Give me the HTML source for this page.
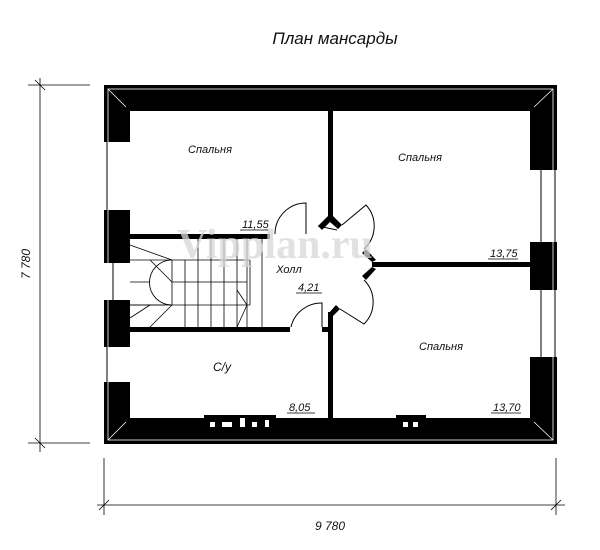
<!DOCTYPE html>
<html><head><meta charset="utf-8"><style>
html,body{margin:0;padding:0;background:#fff;}
svg{display:block;}
text{font-family:"Liberation Sans","DejaVu Sans",sans-serif;font-style:italic;fill:#111;}
</style></head><body>
<svg width="600" height="550" viewBox="0 0 600 550" xmlns="http://www.w3.org/2000/svg">
<text x="335" y="44" font-size="17" text-anchor="middle">План мансарды</text>
<!-- outer walls -->
<path d="M104 85 H557 V444 H104 Z M130 111 V418 H530 V111 Z" fill="#000" fill-rule="evenodd"/>
<path d="M108 89 L126 107 M553 89 L534 107 M108 440 L126 422 M553 440 L534 422" stroke="#fff" stroke-width="0.8"/>
<rect x="108" y="89" width="445" height="351" fill="none" stroke="#fff" stroke-width="0.8"/>
<!-- left windows -->
<rect x="104" y="142" width="26" height="68" fill="#fff"/>
<line x1="107" y1="142" x2="107" y2="210" stroke="#000" stroke-width="1"/>
<rect x="104" y="263" width="26" height="37" fill="#fff"/>
<line x1="113" y1="263" x2="113" y2="300" stroke="#000" stroke-width="1"/>
<rect x="104" y="347" width="26" height="35" fill="#fff"/>
<line x1="107" y1="347" x2="107" y2="382" stroke="#000" stroke-width="1"/>
<!-- right windows -->
<rect x="530" y="170" width="27" height="72" fill="#fff"/>
<line x1="541" y1="170" x2="541" y2="242" stroke="#000" stroke-width="1"/>
<line x1="555" y1="170" x2="555" y2="242" stroke="#000" stroke-width="1"/>
<rect x="530" y="290" width="27" height="67" fill="#fff"/>
<line x1="541" y1="290" x2="541" y2="357" stroke="#000" stroke-width="1"/>
<line x1="555" y1="290" x2="555" y2="357" stroke="#000" stroke-width="1"/>
<!-- bottom wall vents -->
<rect x="204" y="415" width="72" height="20" fill="#000"/>
<rect x="210" y="422" width="5" height="5" fill="#fff"/><rect x="222" y="422" width="10" height="5" fill="#fff"/><rect x="240" y="418" width="5" height="9" fill="#fff"/><rect x="252" y="422" width="5" height="5" fill="#fff"/><rect x="265" y="420" width="4" height="7" fill="#fff"/>
<rect x="396" y="415" width="30" height="20" fill="#000"/>
<rect x="403" y="422" width="5" height="5" fill="#fff"/><rect x="413" y="422" width="5" height="5" fill="#fff"/>
<!-- interior walls -->
<g fill="#000">
<rect x="328" y="111" width="5" height="107"/>
<polygon points="328,216 333,216 342,225 338,229 330,222 322,230 318,226"/>
<rect x="130" y="234" width="140" height="5"/>
<rect x="372" y="262" width="158" height="5"/>
<polygon points="372,262 362,253 366,249 376,260"/>
<polygon points="372,267 362,276 366,280 376,269"/>
<rect x="130" y="327" width="160" height="5"/>
<rect x="322" y="327" width="8" height="5"/>
<rect x="328" y="312" width="5" height="106"/>
<polygon points="328,314 336,305 340,309 333,316"/>
</g>
<!-- doors -->
<g fill="none" stroke="#000" stroke-width="1">
<path d="M306 234 V203 A31 31 0 0 0 275 234"/>
<path d="M342 225 L366 205 A31 31 0 0 1 364 249"/>
<path d="M364 280 A31 31 0 0 1 364 324 L340 309"/>
<path d="M322 327 V303 A31 31 0 0 0 291 327"/>
<path d="M337 230 L318 226"/>
</g>
<!-- stairs -->
<g fill="none" stroke="#000" stroke-width="0.8">
<line x1="130" y1="260" x2="250" y2="260"/>
<line x1="172" y1="282" x2="247" y2="282"/>
<line x1="130" y1="305" x2="250" y2="305"/>
<line x1="247" y1="239" x2="247" y2="327"/>
<line x1="250" y1="260" x2="250" y2="305"/>
<path d="M172 260 A22 22 0 0 0 172 305"/>
<line x1="130" y1="245" x2="172" y2="260"/>
<line x1="150" y1="260" x2="172" y2="282"/>
<line x1="130" y1="282" x2="150" y2="282"/>
<line x1="130" y1="305" x2="165" y2="305"/>
<line x1="150" y1="327" x2="172" y2="305"/>
<line x1="130" y1="318" x2="150" y2="305"/>
<line x1="172" y1="260" x2="172" y2="305"/>
<line x1="185" y1="260" x2="185" y2="327"/>
<line x1="198" y1="239" x2="198" y2="327"/>
<line x1="211" y1="239" x2="211" y2="327"/>
<line x1="224" y1="239" x2="224" y2="327"/>
<line x1="237" y1="239" x2="237" y2="327"/>
<line x1="262" y1="239" x2="262" y2="327"/>
<line x1="237" y1="290" x2="247" y2="305"/>
<line x1="237" y1="327" x2="247" y2="305"/>
</g>
<!-- watermark -->
<text x="275" y="258" font-size="42" font-weight="bold" text-anchor="middle" style="font-family:'Liberation Serif',serif;font-style:normal;fill:#d8d8d8;opacity:0.75">Vipplan.ru</text>
<!-- labels -->
<text x="210" y="153" font-size="11" text-anchor="middle">Спальня</text>
<text x="420" y="161" font-size="11" text-anchor="middle">Спальня</text>
<text x="441" y="350" font-size="11" text-anchor="middle">Спальня</text>
<text x="289" y="273" font-size="11" text-anchor="middle">Холл</text>
<text x="222" y="371" font-size="12" text-anchor="middle">С/у</text>
<g font-size="11">
<text x="242" y="228">11,55</text><line x1="240" y1="230" x2="268" y2="230" stroke="#000" stroke-width="0.8"/>
<text x="490" y="257">13,75</text><line x1="488" y1="259" x2="518" y2="259" stroke="#000" stroke-width="0.8"/>
<text x="298" y="291">4,21</text><line x1="296" y1="293" x2="322" y2="293" stroke="#000" stroke-width="0.8"/>
<text x="289" y="411">8,05</text><line x1="287" y1="413" x2="315" y2="413" stroke="#000" stroke-width="0.8"/>
<text x="493" y="411">13,70</text><line x1="491" y1="413" x2="521" y2="413" stroke="#000" stroke-width="0.8"/>
</g>
<!-- dimensions -->
<g stroke="#000" stroke-width="0.8">
<line x1="40" y1="78" x2="40" y2="452"/>
<line x1="28" y1="85" x2="90" y2="85"/>
<line x1="28" y1="443" x2="90" y2="443"/>
<line x1="35" y1="80" x2="45" y2="90"/>
<line x1="35" y1="438" x2="45" y2="448"/>
<line x1="97" y1="505" x2="565" y2="505"/>
<line x1="104" y1="458" x2="104" y2="515"/>
<line x1="556" y1="458" x2="556" y2="515"/>
<line x1="99" y1="510" x2="109" y2="500"/>
<line x1="551" y1="510" x2="561" y2="500"/>
</g>
<text x="30" y="264" font-size="12" text-anchor="middle" transform="rotate(-90 30 264)">7 780</text>
<text x="330" y="530" font-size="12" text-anchor="middle">9 780</text>
</svg>
</body></html>
